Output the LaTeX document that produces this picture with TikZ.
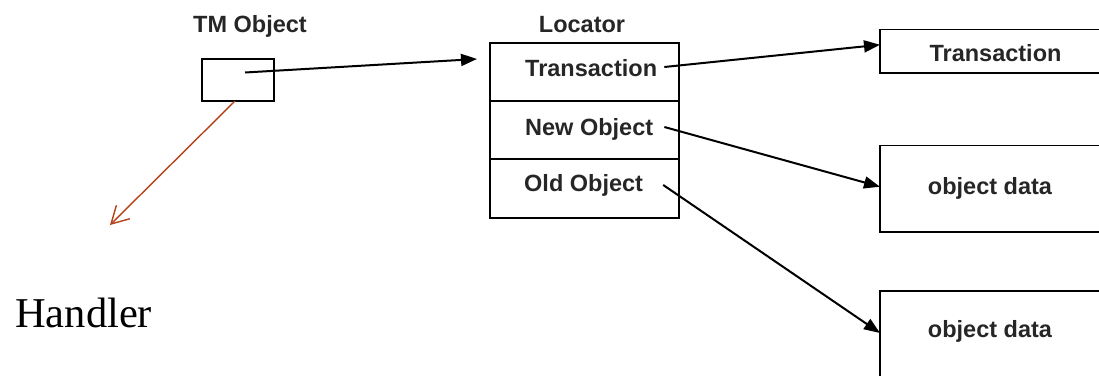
\documentclass[tikz,border=0pt]{standalone}
\usepackage{fontspec}
\newfontfamily\labelfont{Liberation Sans}
\newfontfamily\handlerfont{Liberation Serif}
\usetikzlibrary{arrows.meta,calc}
\definecolor{labelgray}{HTML}{262626}
\definecolor{handlerred}{HTML}{B5411A}
\tikzset{
  box/.style={draw=black, line width=1.7pt, minimum width=#1, inner sep=0pt, outer sep=0pt},
  lbl/.style={font=\labelfont\bfseries\fontsize{23.5}{28}\selectfont, text=labelgray, inner sep=0pt},
  link/.style={line width=2pt, -{Triangle[length=16pt,width=12pt]}},
  handlerlink/.style={draw=handlerred, line width=1.4pt, -{Straight Barb[length=17pt,width=19pt,line width=1.4pt]}}
}
\begin{document}
\begin{tikzpicture}[x=1pt,y=-1pt]
\useasboundingbox (0,0) rectangle (1099,375);

% TM object pointer cell
\node[box=72pt, minimum height=42pt] (tm) at (238,80) {};
\node[lbl, anchor=base] (tmlabel) at (250,32) {TM Object};

% locator with its three fields
\node[box=189pt, minimum height=58pt] (loc1) at (584.5,72) {};
\node[box=189pt, minimum height=58pt] (loc2) at (584.5,130) {};
\node[box=189pt, minimum height=59pt] (loc3) at (584.5,188.5) {};
\node[lbl, anchor=base] (loclabel) at (582,32) {Locator};
\node[lbl, anchor=base west] (ftrans) at (525,76) {Transaction};
\node[lbl, anchor=base west] (fnew) at (525,135) {New Object};
\node[lbl, anchor=base west] (fold) at (524,191) {Old Object};

% referenced records
\node[box=240pt, minimum height=43.5pt, anchor=north west] (trans) at (880,29.5) {};
\node[box=240pt, minimum height=86.5pt, anchor=north west] (newdata) at (880,145.5) {};
\node[box=240pt, minimum height=130pt, anchor=north west] (olddata) at (880,291) {};
\node[lbl, anchor=base] (transtext) at (995.5,61.5) {Transaction};
\node[lbl, anchor=base] (newtext) at (990,194) {object data};
\node[lbl, anchor=base] (oldtext) at (990,337) {object data};

% handler
\node[anchor=base west, inner sep=0pt, font=\handlerfont\fontsize{42.5}{50}\selectfont] (handler) at (15,327) {Handler};
\coordinate (handlertip) at (110,225);

% pointer sources
\coordinate (tmsrc) at ([xshift=7pt,yshift=7.5pt]tm.center);
\coordinate (transsrc) at ([xshift=7pt,yshift=9pt]ftrans.base east);
\coordinate (newsrc) at ([xshift=11pt,yshift=8pt]fnew.base east);
\coordinate (oldsrc) at ([xshift=20pt,yshift=6pt]fold.base east);

\draw[link] (tmsrc) -- ([xshift=-13pt,yshift=13pt]loc1.west);
\draw[link] (transsrc) -- ([yshift=6.5pt]trans.west);
\draw[link] (newsrc) -- ([yshift=2pt]newdata.west);
\draw[link] (oldsrc) -- ([yshift=23pt]olddata.west);
\draw[handlerlink] ([xshift=-3pt]tm.south) -- (handlertip);
\end{tikzpicture}
\end{document}
